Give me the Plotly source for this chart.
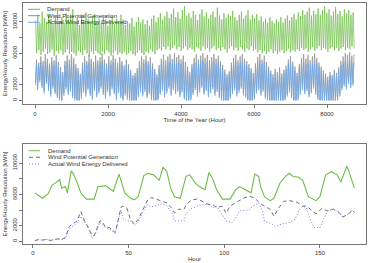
import plotly.graph_objects as go

# ---------------- Top panel: whole year (high / low value per 60-hour block) -------------
block_hours = 60
demand_hi = [10200, 10900, 9800, 11300, 10500, 10000, 11000, 10400, 9700, 10800,
             11400, 10100, 10600, 9900, 11100, 10300, 10700, 11600, 10000, 10500,
             9600, 10900, 10200, 11200, 10400, 9800, 10600, 11000, 10100, 10400,
             9900, 10700, 10300, 9500, 10200, 10800, 9700, 10400, 10000, 10900,
             10300, 9600, 10100, 9800, 10500, 9400, 10000, 10600, 9900, 10300,
             9700, 10200, 9500, 10400, 10800, 10000, 10600, 11100, 10300, 10700,
             11300, 10500, 11000, 11700, 10600, 11200, 10400, 11500, 12000, 10800,
             11100, 10500, 11400, 10900, 10200, 11000, 11600, 10700, 11200, 10400,
             10900, 11300, 10600, 11800, 10800, 10300, 11100, 10500, 11000, 10700,
             11400, 10600, 10200, 10900, 11300, 10400, 10800, 11500, 10300, 10900,
             10500, 11000, 10200, 10700, 10000, 10400, 9900, 10600, 10100, 9800,
             10300, 10000, 10600, 9900, 10400, 10800, 10200, 10600, 11000, 10300,
             11200, 10700, 11500, 10900, 11300, 11800, 10800, 11400, 11000, 11700,
             10900, 11500, 12000, 11100, 11600, 10800, 11300, 11900, 11000, 11400,
             10700, 11600, 11100, 11500, 10900, 11200]
demand_lo = [6000, 6400, 5800, 6200, 6600, 5900, 6100, 6500, 5700, 6300,
             6000, 6400, 5800, 6100, 6500, 5900, 6200, 6000, 5700, 6300,
             6100, 5800, 6400, 6000, 5600, 6200, 5900, 6300, 6000, 5800,
             6200, 5900, 6400, 6100, 5700, 6000, 6300, 5800, 6100, 5900,
             6200, 5800, 6000, 6300, 5900, 5700, 6100, 6400, 6000, 5800,
             6200, 6000, 6500, 6200, 5900, 6400, 6600, 6300, 6800, 6500,
             6900, 6400, 6700, 7000, 6500, 6800, 6300, 6600, 6900, 6400,
             6700, 6500, 6200, 6800, 6600, 6300, 6900, 6500, 6700, 6200,
             6600, 6900, 6400, 6700, 6300, 6800, 6500, 6100, 6600, 6900,
             6400, 6700, 6300, 6800, 6500, 6200, 6600, 6400, 6900, 6300,
             6500, 6100, 6400, 6000, 6300, 5900, 6200, 6500, 6000, 6300,
             5900, 6200, 6400, 6000, 6300, 6600, 6100, 6400, 6200, 6500,
             6300, 6700, 6400, 6600, 6200, 6500, 6800, 6300, 6600, 6900,
             6400, 6700, 6500, 6200, 6600, 6800, 6400, 6700, 6300, 6600,
             6800, 6400, 6700, 6500, 6900, 6600]
wind_hi = [5200, 4800, 5600, 5000, 5900, 5300, 4700, 5500, 5100, 5800,
           4900, 4200, 3600, 5000, 5700, 5200, 5900, 5400, 4600, 4100,
           3400, 4800, 5600, 5000, 5800, 5300, 4900, 5700, 5100, 5500,
           6000, 5200, 4700, 5600, 5100, 5800, 5300, 4800, 5500, 5000,
           4400, 5200, 4600, 3900, 3200, 3500, 4100, 5000, 5600, 5200,
           5700, 5000, 5500, 4700, 4000, 3300, 4500, 5300, 5800, 5100,
           5600, 5900, 5300, 6000, 5500, 5800, 5200, 5700, 4900, 4300,
           3600, 4600, 5400, 5900, 5200, 5700, 6000, 5400, 5800, 5100,
           5500, 5900, 5300, 5700, 5000, 4500, 3900, 3300, 3700, 4800,
           5400, 5800, 5100, 5600, 5900, 5300, 5000, 4600, 4100, 3500,
           4700, 5500, 5900, 5200, 5700, 4900, 4300, 3800, 3300, 4000,
           3600, 4200, 3400, 3900, 4400, 5200, 5600, 4900, 4300, 3500,
           4600, 5400, 5900, 5300, 5800, 5100, 5600, 6000, 5400, 4800,
           4300, 3800, 3400, 3000, 3600, 3200, 3900, 3500, 4200, 5000,
           5600, 6000, 5800, 6100, 5700, 5900]
wind_lo = [2200, 1600, 2600, 1900, 1200, 2400, 1500, 800, 1800, 1100,
           600, 200, 0, 900, 1700, 1000, 1400, 600, 300, 0,
           0, 500, 1300, 800, 1600, 900, 400, 1500, 700, 1200,
           1800, 1000, 500, 1400, 800, 1700, 1100, 300, 1200, 600,
           200, 900, 400, 0, 0, 0, 0, 700, 1300, 800,
           1400, 600, 1100, 300, 0, 0, 200, 1000, 1500, 700,
           1200, 1800, 900, 1600, 1100, 1400, 700, 1300, 400, 0,
           0, 300, 1000, 1600, 800, 1300, 1900, 1000, 1500, 700,
           1200, 1700, 900, 1400, 600, 200, 0, 0, 0, 500,
           1100, 1600, 800, 1300, 1800, 900, 600, 200, 0, 0,
           400, 1200, 1600, 900, 1400, 500, 100, 0, 0, 0,
           0, 0, 0, 0, 200, 800, 1300, 600, 0, 0,
           300, 1000, 1600, 1100, 1500, 700, 1200, 1800, 1000, 400,
           0, 0, 0, 0, 0, 0, 0, 0, 100, 800,
           1600, 2100, 1700, 2400, 1900, 2200]
actual_hi = [4600, 4300, 4800, 4400, 5000, 4700, 4200, 4800, 4500, 4900,
             4400, 3800, 3200, 4500, 4900, 4600, 5000, 4700, 4100, 3700,
             3100, 4300, 4800, 4500, 4900, 4700, 4400, 4900, 4500, 4800,
             5000, 4600, 4200, 4800, 4500, 4900, 4700, 4300, 4800, 4500,
             3900, 4600, 4100, 3500, 2900, 3100, 3700, 4500, 4800, 4600,
             4900, 4500, 4800, 4200, 3600, 3000, 4000, 4700, 5000, 4500,
             4800, 5000, 4600, 5100, 4700, 4900, 4600, 4900, 4400, 3800,
             3200, 4100, 4700, 5000, 4600, 4900, 5100, 4700, 4900, 4500,
             4800, 5000, 4600, 4900, 4500, 4000, 3500, 2900, 3300, 4300,
             4700, 4900, 4500, 4800, 5000, 4600, 4400, 4100, 3700, 3100,
             4200, 4800, 5000, 4600, 4900, 4400, 3800, 3400, 2900, 3600,
             3200, 3700, 3000, 3500, 3900, 4600, 4800, 4400, 3800, 3100,
             4100, 4700, 4900, 4600, 4800, 4500, 4700, 5000, 4600, 4300,
             3800, 3300, 3000, 2600, 3200, 2800, 3400, 3100, 3700, 4400,
             4700, 5000, 4800, 5100, 4700, 4900]
actual_lo = [1900, 1300, 2300, 1600, 900, 2100, 1200, 500, 1500, 800,
             300, 0, 0, 600, 1400, 700, 1100, 300, 0, 0,
             0, 200, 1000, 500, 1300, 600, 100, 1200, 400, 900,
             1500, 700, 200, 1100, 500, 1400, 800, 0, 900, 300,
             0, 600, 100, 0, 0, 0, 0, 400, 1000, 500,
             1100, 300, 800, 0, 0, 0, 0, 700, 1200, 400,
             900, 1500, 600, 1300, 800, 1100, 400, 1000, 100, 0,
             0, 0, 700, 1300, 500, 1000, 1600, 700, 1200, 400,
             900, 1400, 600, 1100, 300, 0, 0, 0, 0, 200,
             800, 1300, 500, 1000, 1500, 600, 300, 0, 0, 0,
             100, 900, 1300, 600, 1100, 200, 0, 0, 0, 0,
             0, 0, 0, 0, 0, 500, 1000, 300, 0, 0,
             0, 700, 1300, 800, 1200, 400, 900, 1500, 700, 100,
             0, 0, 0, 0, 0, 0, 0, 0, 0, 500,
             1300, 1800, 1400, 2100, 1600, 1900]

# ---------------- Bottom panel: one week ----------------
week_demand_h = [1, 4, 5, 8, 10, 12, 14, 15, 17, 18, 20, 21, 23, 25, 28, 32, 34, 38, 40, 42, 45, 46, 48, 51, 53,
                 55, 58, 60, 63, 66, 68, 70, 72, 74, 77, 80, 82, 85, 87, 90, 92, 94, 96, 99, 103, 106, 108, 111, 114, 116,
                 118, 119, 121, 124, 126, 129, 132, 134, 136, 139, 141, 144, 146, 148, 150, 153, 156, 159, 161, 164, 165, 168]
week_demand = [6200, 5600, 5500, 6100, 7200, 7500, 7900, 6800, 7000, 6200, 9000, 8700, 7600, 6200, 5400,
               5400, 7000, 7100, 6800, 6400, 8600, 7800, 6200, 5500, 5300, 5700, 8400, 8700, 8500, 7800,
               9500, 8900, 6800, 5700, 5500, 8300, 8500, 7400, 7000, 6600, 8800, 8000, 6600, 5400, 5400,
               6600, 7000, 6600, 6200, 8600, 8300, 7000, 5700, 5200, 5500, 7400, 8300, 8700, 8300, 8200,
               7800, 5700, 5400, 5200, 5700, 8500, 8900, 8500, 7600, 9600, 9100, 6800]
week_wind_h = [1, 3, 5, 7, 9, 11, 13, 15, 17, 19, 21, 23, 25, 27, 29, 31, 32, 35, 36, 38, 40, 43, 46, 47, 49,
               51, 53, 55, 58, 60, 62, 65, 67, 70, 73, 74, 76, 79, 80, 83, 86, 89, 92, 94, 96, 99, 101, 103, 107, 110,
               113, 116, 119, 121, 124, 126, 128, 131, 134, 138, 141, 143, 146, 148, 151, 154, 157, 160, 162, 165, 167, 168]
week_wind = [100, 200, 150, 250, 100, 200, 300, 200, 500, 1900, 2200, 2600, 3800, 2600, 1750,
             700, 700, 2600, 2600, 1750, 1750, 1100, 4300, 4500, 4300, 2800, 2200, 2800, 4300, 5300,
             5600, 5300, 5100, 4900, 4100, 3600, 4100, 4100, 4700, 5300, 5400, 5100, 4700, 4700, 4300,
             4500, 3600, 4500, 5100, 5500, 5800, 5500, 4800, 4500, 4100, 3200, 4100, 5100, 5200, 5000,
             4500, 4500, 3900, 3500, 4200, 3900, 4100, 3700, 3100, 3500, 4000, 3700]
week_actual_h = [1, 3, 5, 7, 9, 11, 13, 15, 17, 19, 21, 23, 25, 27, 29, 31, 32, 35, 38, 40, 43, 46, 47, 49, 51,
                 53, 55, 58, 60, 62, 65, 67, 70, 73, 74, 77, 79, 80, 82, 86, 89, 92, 94, 96, 99, 101, 104, 106, 108, 113,
                 115, 118, 120, 121, 125, 127, 130, 134, 137, 139, 141, 143, 145, 147, 150, 152, 154, 157, 160, 162, 165, 167, 168]
week_actual = [100, 200, 150, 250, 100, 200, 300, 200, 400, 1600, 1900, 2300, 3200, 2500, 1600,
               400, 600, 2400, 1700, 1600, 1000, 4000, 3000, 2600, 2600, 2000, 2500, 4000, 4700, 4400,
               4600, 4800, 4500, 3500, 2600, 2600, 2600, 3500, 4100, 4500, 4700, 4700, 4300, 4500, 3400,
               2600, 2400, 3000, 3900, 4000, 4500, 4900, 3900, 2600, 2200, 1900, 2200, 2400, 2800, 3900,
               4500, 4300, 2800, 1750, 1750, 2800, 3900, 4100, 3700, 3100, 3500, 4000, 3700]

legend_labels = ["Demand", "Wind Potential Generation", "Actual Wind Energy Delivered"]
top_xticks = [0, 2000, 4000, 6000, 8000]
bottom_xticks = [0, 50, 100, 150]
y_ticks = [0, 2000, 4000, 6000, 8000, 10000]
y_ticktext = ["0", "2000", "", "6000", "", "10000"]

GREEN = "#6cbd45"
GREY = "#8e8e8e"
BLUE = "#6aa6ee"
GREY_D = "#707070"
BLUE_D = "#7a7ae6"
AX = "#777777"
TXT = "#333333"
FONT = "Liberation Sans, Arial, sans-serif"


def zigzag(hi, lo, first_off, second_off, hi_first=True):
    xs, ys = [], []
    for i, (h, l) in enumerate(zip(hi, lo)):
        a, b = (h, l) if hi_first else (l, h)
        xs += [block_hours * i + first_off, block_hours * i + second_off]
        ys += [a, b]
    return xs, ys


fig = go.Figure()
dx, dy = zigzag(demand_hi, demand_lo, 15, 45, True)
wx, wy = zigzag(wind_hi, wind_lo, 10, 40, False)
ax_, ay = zigzag(actual_hi, actual_lo, 10, 40, False)
fig.add_trace(go.Scatter(x=dx, y=dy, mode="lines", line=dict(color=GREEN, width=0.7), xaxis="x", yaxis="y"))
fig.add_trace(go.Scatter(x=wx, y=wy, mode="lines", line=dict(color=GREY, width=0.7), xaxis="x", yaxis="y"))
fig.add_trace(go.Scatter(x=ax_, y=ay, mode="lines", line=dict(color=BLUE, width=0.7), xaxis="x", yaxis="y"))

fig.add_trace(go.Scatter(x=week_demand_h, y=week_demand, mode="lines", line=dict(color=GREEN, width=1.1), xaxis="x2", yaxis="y2"))
fig.add_trace(go.Scatter(x=week_wind_h, y=week_wind, mode="lines", line=dict(color=GREY_D, width=1, dash="4px,3px"), xaxis="x2", yaxis="y2"))
fig.add_trace(go.Scatter(x=week_actual_h, y=week_actual, mode="lines", line=dict(color=BLUE_D, width=1, dash="1px,2px"), xaxis="x2", yaxis="y2"))

W, H = 370, 263
L, R, T, B = 23, 4, 3, 19
PW, PH = W - L - R, H - T - B


def pxx(p):
    return (p - L) / PW


def pxy(p):
    return (H - B - p) / PH


axis_common = dict(showline=True, mirror=True, linecolor=AX, linewidth=1, ticks="outside", ticklen=3,
                   tickcolor=AX, tickwidth=1, showgrid=False, zeroline=False,
                   tickfont=dict(size=6, color=TXT, family=FONT), automargin=False)

fig.update_layout(
    width=W, height=H, margin=dict(l=L, r=R, t=T, b=B),
    paper_bgcolor="white", plot_bgcolor="white", showlegend=False,
    font=dict(family=FONT, size=6, color=TXT),
    xaxis=dict(domain=[0, 1], anchor="y", range=[-330, 9068], tickvals=top_xticks,
               title=dict(text="Time of the Year (Hour)", font=dict(size=6, color=TXT), standoff=2), **axis_common),
    yaxis=dict(domain=[pxy(104.3), 1], anchor="x", range=[-500, 12400], tickvals=y_ticks, ticktext=y_ticktext,
               tickangle=-90, title=dict(text="Energy/Hourly Resolution [kWh]", font=dict(size=6, color=TXT), standoff=3),
               **axis_common),
    xaxis2=dict(domain=[0, 1], anchor="y2", range=[-5.2, 174.1], tickvals=bottom_xticks, **axis_common),
    yaxis2=dict(domain=[0, pxy(144)], anchor="x2", range=[-350, 12450], tickvals=y_ticks, ticktext=y_ticktext,
                tickangle=-90, title=dict(text="Energy/Hourly Resolution [kWh]", font=dict(size=6, color=TXT), standoff=3),
                **axis_common),
)

shapes, annotations = [], []
top_rows = [9.3, 15.7, 22.3]
top_styles = [(GREEN, "solid"), (GREY, "solid"), (BLUE, "solid")]
bot_rows = [150.7, 157.3, 164.0]
bot_styles = [(GREEN, "solid"), (GREY_D, "4px,3px"), (BLUE_D, "1px,2px")]
for rows, styles, x0, x1, xt in [(top_rows, top_styles, 28, 40, 45), (bot_rows, bot_styles, 29, 40, 46)]:
    for r, (c, d), lab in zip(rows, styles, legend_labels):
        shapes.append(dict(type="line", xref="paper", yref="paper", x0=pxx(x0), x1=pxx(x1), y0=pxy(r), y1=pxy(r),
                           line=dict(color=c, width=1, dash=d)))
        annotations.append(dict(xref="paper", yref="paper", x=pxx(xt), y=pxy(r), text=lab, showarrow=False,
                                xanchor="left", yanchor="middle", font=dict(size=6, color=TXT, family=FONT)))
# bottom x-axis title, kept fully inside the page at its lower edge
annotations.append(dict(xref="paper", yref="paper", x=0.5, y=pxy(258.5), text="Hour", showarrow=False,
                        xanchor="center", yanchor="middle", font=dict(size=6, color=TXT, family=FONT)))
fig.update_layout(shapes=shapes, annotations=annotations)

fig.write_html("out.html")
